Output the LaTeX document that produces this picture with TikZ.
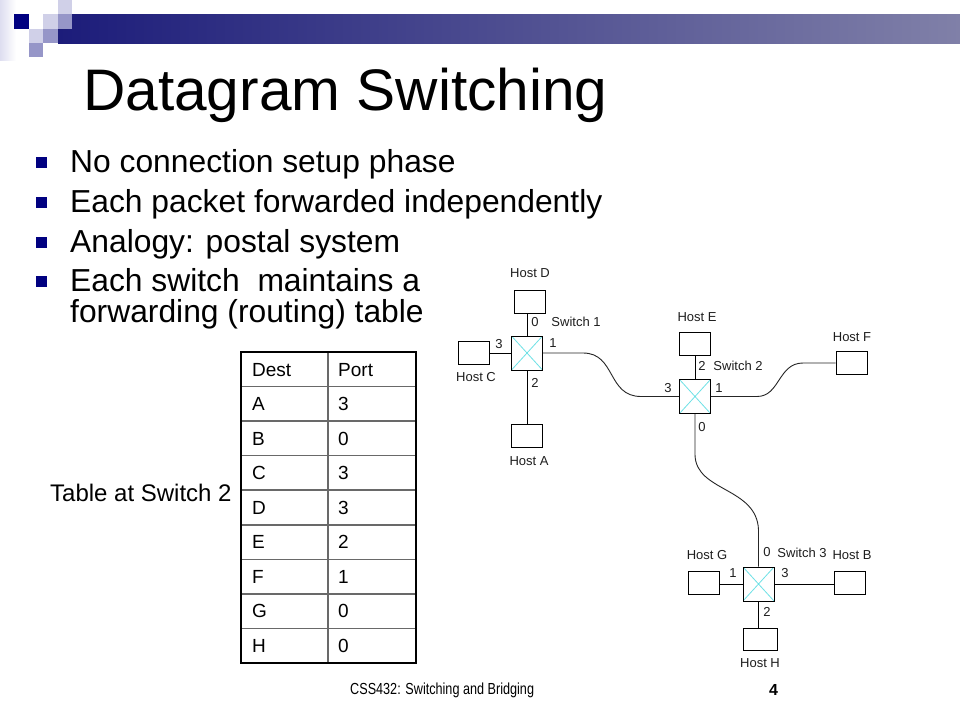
\documentclass[tikz,border=0pt]{standalone}
\usepackage{fontspec}
\setmainfont{Liberation Sans}
\usetikzlibrary{calc}
\definecolor{navy}{RGB}{0,0,128}
\definecolor{barL}{RGB}{28,28,122}
\definecolor{barR}{RGB}{128,128,168}
\definecolor{sqlight}{RGB}{208,208,232}
\definecolor{sqmed}{RGB}{150,150,200}
\definecolor{sqfade}{RGB}{222,222,240}
\definecolor{xcyan}{RGB}{110,225,230}
\definecolor{gridgray}{RGB}{105,105,105}
\definecolor{lbl}{RGB}{30,30,30}
\tikzset{
  bul/.style={fill=navy, minimum size=11pt, inner sep=0pt},
  btext/.style={anchor=base west, inner sep=0pt, font=\fontsize{31.8}{36}\selectfont},
  cell/.style={anchor=base west, inner sep=0pt, font=\fontsize{19}{22}\selectfont},
  hostbox/.style={draw, fill=white, line width=0.9pt, minimum width=31pt, minimum height=23pt, inner sep=0pt},
  switchbox/.style={draw, fill=white, line width=0.9pt, minimum width=31pt, minimum height=34pt, inner sep=0pt,
    path picture={\draw[xcyan, line width=0.8pt]
      (path picture bounding box.north west) -- (path picture bounding box.south east)
      (path picture bounding box.north east) -- (path picture bounding box.south west);}},
  small/.style={inner sep=0pt, text=lbl, font=\fontsize{13}{15}\selectfont},
  wire/.style={line width=0.9pt, black},
  cwire/.style={line width=0.9pt, black!85},
}
\begin{document}
\begin{tikzpicture}[x=1pt,y=-1pt]
\useasboundingbox (0,0) rectangle (960,720);
\fill[white] (0,0) rectangle (960,720);

% header decoration
\shade[left color=sqfade, right color=white] (0,0) rectangle (16,60);
\shade[left color=barL, right color=barR] (58,14) rectangle (960,43);
\fill[navy] (14,14) rectangle (29,29);
\fill[sqlight] (43,14) rectangle (58,29);
\fill[sqlight] (58,0) rectangle (72,14);
\fill[sqmed] (58,14) rectangle (72,29);
\fill[sqlight] (29,29) rectangle (43,43);
\fill[sqmed] (43,29) rectangle (58,43);
\fill[sqmed] (29,43) rectangle (43,57);

% title
\node[anchor=base west, inner sep=0pt, font=\fontsize{58.6}{62}\selectfont] (title) at (83,110) {Datagram Switching};

% bullets
\node[bul] (q1) at (41.5,162) {};
\node[bul] (q2) at (41.5,202) {};
\node[bul] (q3) at (41.5,242) {};
\node[bul] (q4) at (41.5,281) {};
\node[btext] (b1) at (70,172) {No connection setup phase};
\node[btext] (b2) at (70,212) {Each packet forwarded independently};
\node[btext] (b3) at (70,252) {Analogy: postal system};
\node[btext] (b4) at (70,291) {Each switch\ \ maintains a};
\node[btext] (b5) at (70,322) {forwarding (routing) table};

% table
\foreach \k in {1,...,8}{
  \draw[gridgray, line width=1.5pt] (241,352+\k*34.56) -- (416,352+\k*34.56);
}
\draw[gridgray, line width=1.5pt] (328,352) -- (328,663);
\draw[black, line width=2.8pt] (241,352) rectangle (416,663);
\foreach \d/\p [count=\i from 0] in {Dest/Port,A/3,B/0,C/3,D/3,E/2,F/1,G/0,H/0}{
  \node[cell] (d\i) at (252,376+\i*34.56) {\d};
  \node[cell] (p\i) at (338,376+\i*34.56) {\p};
}
\node[anchor=west, inner sep=0pt, font=\fontsize{24}{26}\selectfont] (tcap) at (50,493) {Table at Switch 2};

% network: switches
\node[switchbox] (sw1) at (527,353) {};
\node[switchbox] (sw2) at (695,396.5) {};
\node[switchbox] (sw3) at (758.5,584) {};

% hosts
\node[hostbox] (hD) at (530,302) {};
\node[hostbox] (hC) at (474,353) {};
\node[hostbox] (hA) at (527,435.5) {};
\node[hostbox] (hE) at (695,344) {};
\node[hostbox] (hF) at (851.5,362.5) {};
\node[hostbox] (hG) at (703.5,582.5) {};
\node[hostbox] (hB) at (849.5,582.5) {};
\node[hostbox, minimum width=34pt, minimum height=22pt] (hH) at (760.5,639) {};

% links
\draw[wire] (sw1.north) -- (sw1.north |- hD.south);
\draw[wire] (hC.east) -- (sw1.west);
\draw[wire] (sw1.south) -- (sw1.south |- hA.north);
\draw[cwire] (sw1.east) -- (583,353) .. controls (616,353) and (607,396.5) .. (641,396.5) -- (sw2.west);
\draw[wire] (sw2.north) -- (hE.south);
\draw[cwire] (sw2.east) -- (757,396.5) .. controls (780,396.5) and (778,363) .. (803,363) -- (hF.west |- 0,363);
\draw[cwire] (sw2.south) -- (695,455) .. controls (696,492) and (757,487) .. (758.5,530) -- (sw3.north);
\draw[wire] (hG.east |- sw3.west) -- (sw3.west);
\draw[wire] (sw3.east) -- (hB.west |- sw3.east);
\draw[wire] (sw3.south) -- (sw3.south |- hH.north);

% labels
\node[small] (lD) at (530,273) {Host D};
\node[small] (lC) at (476,377) {Host C};
\node[small] (lA) at (529,461) {Host A};
\node[small] (lE) at (697,317) {Host E};
\node[small] (lF) at (852,337) {Host F};
\node[small] (lG) at (707,555) {Host G};
\node[small] (lB) at (852,555) {Host B};
\node[small] (lH) at (760,663) {Host H};
\node[small] (s1) at (576,322) {Switch 1};
\node[small] (s2) at (738,366) {Switch 2};
\node[small] (s3) at (802,553) {Switch 3};
% ports
\node[small] (p10) at (535,322) {0};
\node[small] (p13) at (499,344) {3};
\node[small] (p11) at (553,343) {1};
\node[small] (p12) at (535,383) {2};
\node[small] (p22) at (702,366) {2};
\node[small] (p23) at (668,388) {3};
\node[small] (p21) at (719,388) {1};
\node[small] (p20) at (702,427) {0};
\node[small] (p30) at (767,552) {0};
\node[small] (p31) at (733,573) {1};
\node[small] (p33) at (785,573) {3};
\node[small] (p32) at (767,612) {2};

% footer
\node[anchor=west, inner sep=0pt, font=\fontsize{16}{18}\selectfont] (foot) at (350,690) {\scalebox{0.79}[1]{CSS432: Switching and Bridging}};
\node[inner sep=0pt, font=\fontsize{16}{18}\selectfont\bfseries] (pg) at (773.5,690) {4};
\end{tikzpicture}
\end{document}
